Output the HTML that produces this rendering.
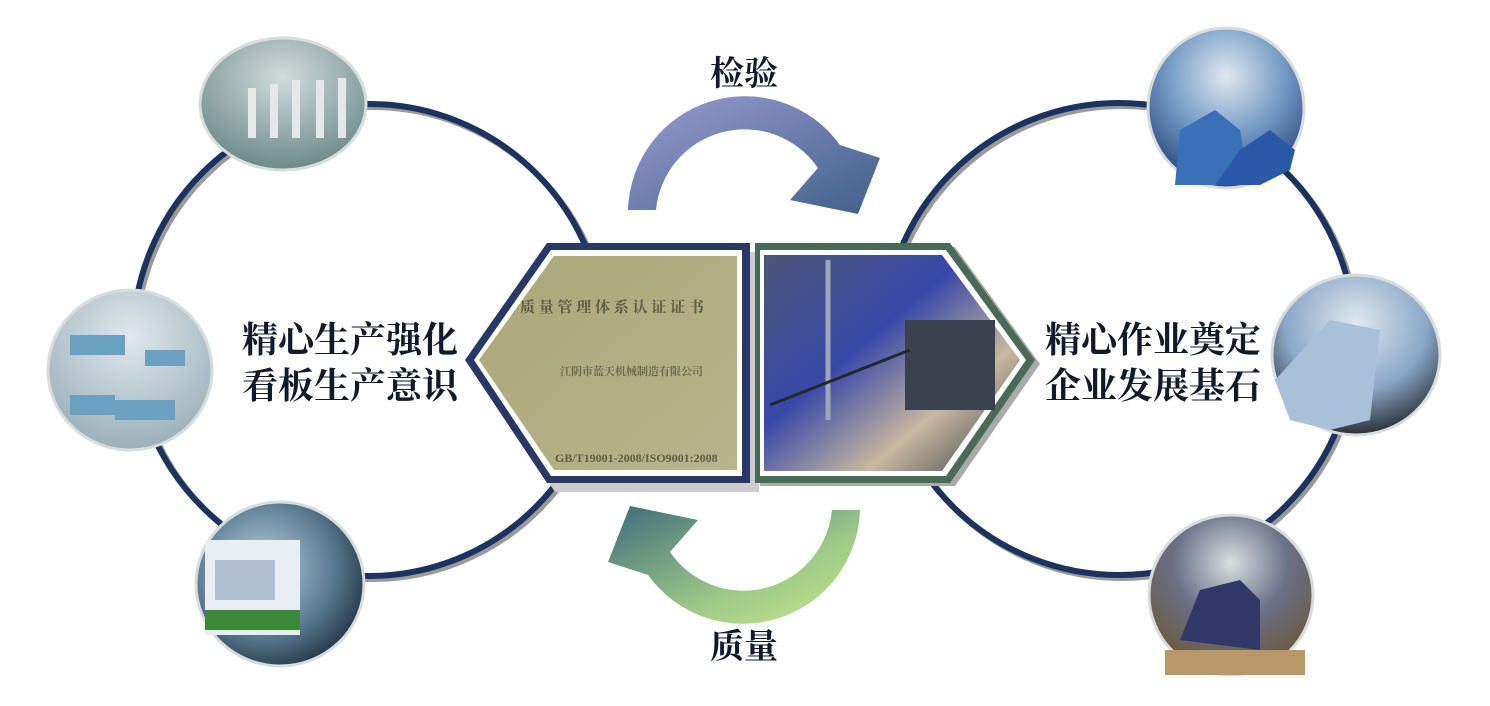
<!DOCTYPE html>
<html><head><meta charset="utf-8"><style>
html,body{margin:0;padding:0;background:#fff;width:1490px;height:706px;overflow:hidden}
</style></head><body>
<svg width="1490" height="706" viewBox="0 0 1490 706" xmlns="http://www.w3.org/2000/svg">
<defs>
<linearGradient id="gTop" x1="0" y1="0" x2="1" y2="1"><stop offset="0" stop-color="#9a9cd0"/><stop offset="1" stop-color="#3f6088"/></linearGradient>
<linearGradient id="gBot" x1="0" y1="0" x2="1" y2="1"><stop offset="0" stop-color="#c8e888"/><stop offset="0.4" stop-color="#9cc888"/><stop offset="1" stop-color="#3e6a7a"/></linearGradient>
<linearGradient id="cert" x1="0" y1="0" x2="1" y2="1"><stop offset="0" stop-color="#a8a878"/><stop offset="1" stop-color="#b8b48c"/></linearGradient>
<linearGradient id="mach" x1="0" y1="0" x2="1" y2="1"><stop offset="0" stop-color="#4a5878"/><stop offset="0.4" stop-color="#3848a8"/><stop offset="0.7" stop-color="#c8b8a0"/><stop offset="1" stop-color="#303848"/></linearGradient>
<radialGradient id="p1" cx="0.5" cy="0.3" r="0.7"><stop offset="0" stop-color="#d0dcdc"/><stop offset="1" stop-color="#6c8a88"/></radialGradient>
<radialGradient id="p2" cx="0.5" cy="0.3" r="0.7"><stop offset="0" stop-color="#e0e8ec"/><stop offset="1" stop-color="#9ab0b8"/></radialGradient>
<radialGradient id="p3" cx="0.4" cy="0.4" r="0.7"><stop offset="0" stop-color="#b8d0e0"/><stop offset="0.6" stop-color="#5a7a90"/><stop offset="1" stop-color="#1a2838"/></radialGradient>
<radialGradient id="p4" cx="0.5" cy="0.3" r="0.7"><stop offset="0" stop-color="#e0e8f0"/><stop offset="0.5" stop-color="#7aa0c8"/><stop offset="1" stop-color="#2a4880"/></radialGradient>
<radialGradient id="p5" cx="0.5" cy="0.3" r="0.7"><stop offset="0" stop-color="#e0e8f0"/><stop offset="0.6" stop-color="#8aa8c8"/><stop offset="1" stop-color="#2a3038"/></radialGradient>
<radialGradient id="p6" cx="0.5" cy="0.3" r="0.7"><stop offset="0" stop-color="#d8e0e0"/><stop offset="0.5" stop-color="#6a7088"/><stop offset="1" stop-color="#6a5838"/></radialGradient>
</defs>
<circle cx="372" cy="343" r="236" fill="none" stroke="#9a9a9a" stroke-width="6"/>
<circle cx="369" cy="340" r="236" fill="none" stroke="#1b335e" stroke-width="6"/>
<circle cx="1122" cy="342" r="236" fill="none" stroke="#9a9a9a" stroke-width="6"/>
<circle cx="1119" cy="339" r="236" fill="none" stroke="#1b335e" stroke-width="6"/>
<path d="M628 210 A117 117 0 0 1 840 145 L880 158 L858 214 L790 200 L818 168 A89 89 0 0 0 656 210 Z" fill="url(#gTop)"/>
<path d="M628 210 A117 117 0 0 1 840 145 L880 158 L858 214 L790 200 L818 168 A89 89 0 0 0 656 210 Z" fill="url(#gBot)" transform="rotate(180 744 360)"/>
<polygon points="469,363 551,248 755,248 755,488 551,488" fill="#ccc" transform="translate(4,4)"/>
<polygon points="465,360 547,243 750,243 750,483 547,483" fill="#2a3868"/>
<polygon points="474,360 551,250 742,250 742,476 551,476" fill="#fff"/>
<polygon points="479,360 554,256 737,256 737,470 554,470" fill="url(#cert)"/>
<polygon points="760,247 955,247 1040,364 955,486 760,486" fill="#aaa"/>
<polygon points="755,243 950,243 1035,360 950,483 755,483" fill="#4a6a58"/>
<polygon points="760,250 946,250 1026,360 946,476 760,476" fill="#fff"/>
<polygon points="764,255 942,255 1020,360 942,471 764,471" fill="url(#mach)"/>
<rect x="905" y="320" width="90" height="90" fill="#3a4250"/>
<line x1="828" y1="260" x2="828" y2="420" stroke="#9aa8b8" stroke-width="5"/>
<line x1="770" y1="405" x2="910" y2="350" stroke="#202830" stroke-width="3"/>
<g font-family="Liberation Serif,'Noto Serif CJK SC',serif" fill="#3a3a2a" font-weight="bold">
<text x="520" y="312" font-size="15" opacity="0.7">质 量 管 理 体 系 认 证 证 书</text>
<text x="560" y="375" font-size="11" opacity="0.6">江阴市蓝天机械制造有限公司</text>
<text x="555" y="462" font-size="12" opacity="0.7">GB/T19001-2008/ISO9001:2008</text>
</g>
<g stroke="#d8dcdc" stroke-width="3">
<ellipse cx="283" cy="104" rx="83" ry="66" fill="url(#p1)"/>
<ellipse cx="130" cy="370" rx="82" ry="80" fill="url(#p2)"/>
<ellipse cx="280" cy="584" rx="84" ry="82" fill="url(#p3)"/>
<ellipse cx="1226" cy="108" rx="78" ry="80" fill="url(#p4)"/>
<ellipse cx="1356" cy="355" rx="84" ry="80" fill="url(#p5)"/>
<ellipse cx="1231" cy="595" rx="82" ry="80" fill="url(#p6)"/>
</g>
<g fill="#e4e8e8"><rect x="248" y="88" width="8" height="50"/><rect x="270" y="84" width="8" height="54"/><rect x="292" y="80" width="8" height="58"/><rect x="316" y="80" width="8" height="58"/><rect x="338" y="78" width="8" height="60"/></g>
<g fill="#6aa0c0"><rect x="70" y="335" width="55" height="20"/><rect x="145" y="350" width="40" height="16"/><rect x="70" y="395" width="45" height="20"/><rect x="115" y="400" width="60" height="20"/></g>
<rect x="205" y="540" width="95" height="95" fill="#e8eef2"/><rect x="215" y="560" width="60" height="40" fill="#b0c0d0"/><rect x="205" y="610" width="95" height="20" fill="#3a8a3a"/>
<g fill="#3a70b8"><path d="M1175 185 L1180 130 L1215 110 L1240 130 L1250 185 Z"/><path d="M1215 185 L1240 150 L1270 130 L1295 150 L1290 170 L1260 185 Z" fill="#2a58a8"/></g>
<path d="M1275 380 L1330 320 L1380 330 L1370 420 L1330 430 L1290 420 Z" fill="#a8c0d8"/>
<path d="M1180 640 L1200 590 L1240 580 L1260 600 L1260 650 Z" fill="#303868"/>
<rect x="1165" y="650" width="140" height="25" fill="#b89868"/>
<g font-family="Liberation Serif,'Noto Serif CJK SC',serif" font-weight="bold" fill="#111a2a" font-size="36">
<text x="242" y="352">精心生产强化</text>
<text x="242" y="398">看板生产意识</text>
<text x="1045" y="352">精心作业奠定</text>
<text x="1045" y="398">企业发展基石</text>
<text x="710" y="85" font-size="34">检验</text>
<text x="710" y="658" font-size="34">质量</text>
</g>
</svg>
</body></html>
